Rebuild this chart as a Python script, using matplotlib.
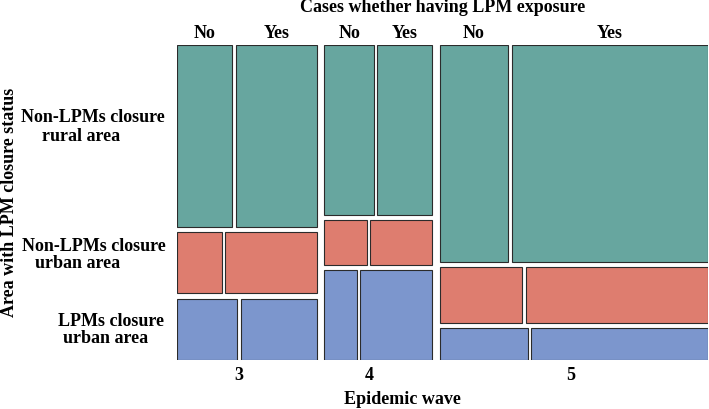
import matplotlib
matplotlib.use("Agg")
import matplotlib.pyplot as plt
from matplotlib.patches import Rectangle
import numpy as np

# ---- data ----
waves = ["3", "4", "5"]
areas = ["Non-LPMs closure\nrural area", "Non-LPMs closure\nurban area", "LPMs closure\nurban area"]
exposure = ["No", "Yes"]
# counts[wave][area] = [No, Yes]
wave3_counts = [[66, 96], [18, 36.5], [24.3, 30.4]]
wave4_counts = [[55.5, 61.1], [12.3, 18.2], [19.1, 42.8]]
wave5_counts = [[95.7, 273.8], [29.5, 65.0], [18.3, 36.7]]
counts = np.array([wave3_counts, wave4_counts, wave5_counts], dtype=float)

colors = ["#67A69F", "#DE7D6F", "#7C96CD"]
edge = "#2b2b2b"

W, H = 709, 410
fig = plt.figure(figsize=(W / 100, H / 100), dpi=100)
ax_l, ax_r, ax_t, ax_b = 176.7, 707.7, 45.7, 361.3
ax = fig.add_axes([ax_l / W, 1 - ax_b / H, (ax_r - ax_l) / W, (ax_b - ax_t) / H])
ax.set_xlim(0, 1)
ax.set_ylim(0, 1)
ax.axis("off")

gap_wave = 7.6 / (ax_r - ax_l)
gap_exp = 3.2 / (ax_r - ax_l)
gap_row = 5.4 / (ax_b - ax_t)

font = dict(family="Liberation Serif", fontweight="bold")
FS = 13

wave_tot = counts.sum(axis=(1, 2))
avail_w = 1 - gap_wave * (len(waves) - 1)
x0 = 0.0
wave_centers = []
top_cells = []
for i, wv in enumerate(waves):
    ww = avail_w * wave_tot[i] / wave_tot.sum()
    area_tot = counts[i].sum(axis=1)
    avail_h = 1 - gap_row * (len(areas) - 1)
    ytop = 1.0
    for j in range(len(areas)):
        hh = avail_h * area_tot[j] / area_tot.sum()
        yb = ytop - hh
        cw_avail = ww - gap_exp
        cx = x0
        for k in range(len(exposure)):
            cw = cw_avail * counts[i, j, k] / area_tot[j]
            ax.add_patch(Rectangle((cx, yb), cw, hh, facecolor=colors[j],
                                   edgecolor=edge, linewidth=0.8))
            if j == 0:
                top_cells.append((cx + cw / 2, exposure[k]))
            cx += cw + gap_exp
        ytop = yb - gap_row
    wave_centers.append(x0 + ww / 2)
    x0 += ww + gap_wave

# top exposure labels
for cxm, lab in top_cells:
    ax.text(cxm, 1 + 12 / (ax_b - ax_t), lab, ha="center", va="center",
            fontsize=FS, **font)

# wave labels
wave_label_shift = [-7.5, -8.5, -3]
for c, lab, s in zip(wave_centers, waves, wave_label_shift):
    ax.text(c + s / (ax_r - ax_l), -14 / (ax_b - ax_t), lab, ha="center", va="center",
            fontsize=FS, **font)

# area labels (each line placed as in the reference)
area_line_pos = [[(93, 117.7), (81, 136.7)],
                 [(93.7, 246.7), (78, 264)],
                 [(110.5, 321.7), (106, 338.3)]]
for poss, lab in zip(area_line_pos, areas):
    for (px, py), line in zip(poss, lab.split("\n")):
        fig.text(px / W, 1 - py / H, line, ha="center", va="center", fontsize=FS,
                 **font)

fig.text(443 / W, 1 - 8 / H, "Cases whether having LPM exposure", ha="center",
         va="center", fontsize=FS, **font)
fig.text(402 / W, 1 - 400 / H, "Epidemic wave", ha="center", va="center",
         fontsize=FS, **font)
fig.text(10 / W, 1 - 202 / H, "Area with LPM closure status", ha="center",
         va="center", rotation=90, fontsize=FS, **font)

fig.savefig("out.png", dpi=100, facecolor="white")
